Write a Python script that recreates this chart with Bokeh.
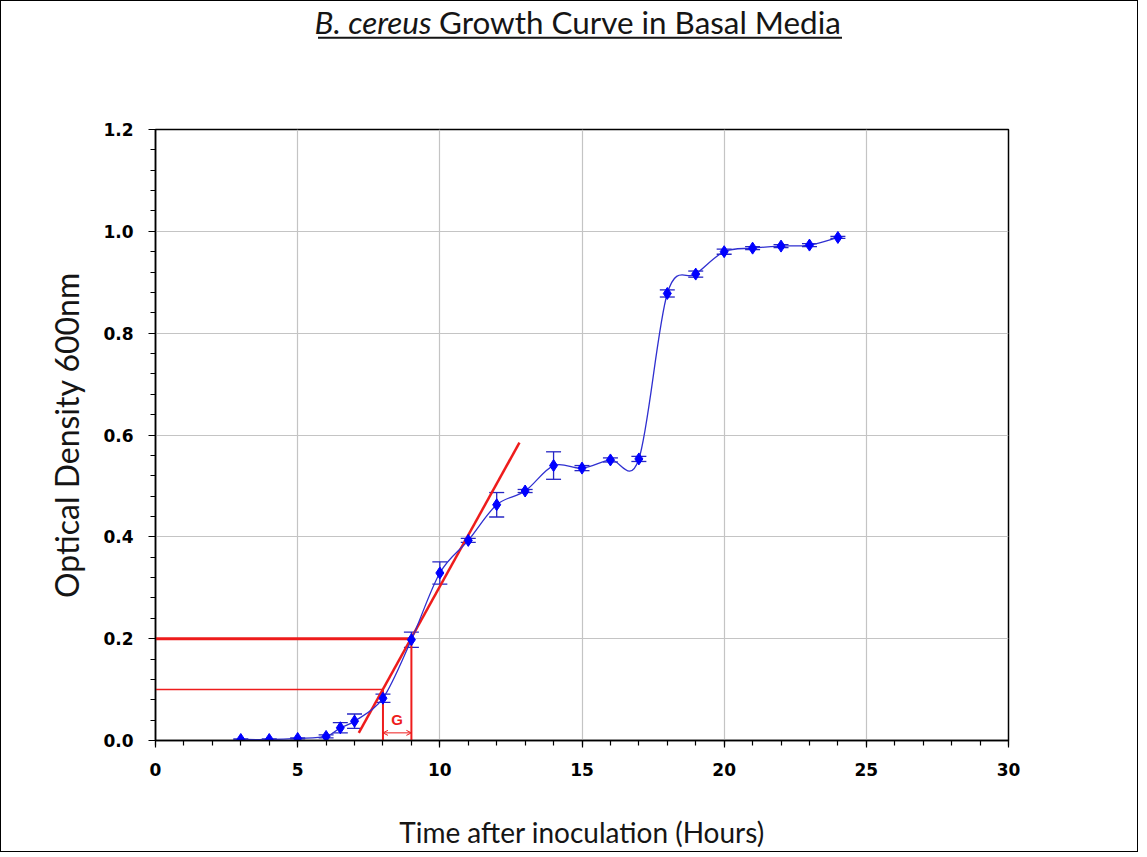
import numpy as np
from bokeh.plotting import figure
from bokeh.layouts import column
from bokeh.models import (ColumnDataSource, Whisker, TeeHead, Range1d, FixedTicker,
                          NumeralTickFormatter, Label, BoxAnnotation, Arrow, OpenHead)
from bokeh.embed import file_html
from bokeh.resources import INLINE

# ---------------- data ----------------
hours = [3, 4, 5, 6, 6.5, 7, 8, 9, 10, 11, 12, 13, 14, 15, 16, 17, 18, 19, 20, 21, 22, 23, 24]
od600 = [0.002, 0.002, 0.004, 0.008, 0.025, 0.038, 0.083, 0.198, 0.329, 0.393, 0.463, 0.490,
         0.540, 0.535, 0.551, 0.553, 0.878, 0.916, 0.960, 0.967, 0.971, 0.973, 0.988]
od_err = [0.001, 0.001, 0.001, 0.003, 0.010, 0.014, 0.008, 0.015, 0.022, 0.004, 0.024, 0.003,
          0.027, 0.005, 0.004, 0.005, 0.007, 0.006, 0.005, 0.003, 0.003, 0.003, 0.002]

gen_time_h = [8, 9]          # times used for generation-time construction
gen_od = [0.1, 0.2]          # OD doubling from 0.1 to 0.2
tangent_h = [7.15, 12.8]     # exponential-phase tangent line
tangent_od = [0.015, 0.585]

x_lim = [0, 30]
y_lim = [0, 1.2]
x_major_ticks = [0, 5, 10, 15, 20, 25, 30]
y_major_ticks = [0.0, 0.2, 0.4, 0.6, 0.8, 1.0, 1.2]
x_minor_step = 1
y_minor_step = 0.04

title_italic = "B. cereus"
title_rest = "Growth Curve in Basal Media"
x_title = "Time after inoculation (Hours)"
y_title = "Optical Density 600nm"

# ---------------- smooth curve (Catmull-Rom / Excel-like) ----------------
x = np.array(hours, float)
y = np.array(od600, float)
n = len(x)
xp = np.concatenate([[x[0]], x, [x[-1]]])
yp = np.concatenate([[y[0]], y, [y[-1]]])
P0x, P1x, P2x, P3x = xp[0:n-1], xp[1:n], xp[2:n+1], xp[3:n+2]
P0y, P1y, P2y, P3y = yp[0:n-1], yp[1:n], yp[2:n+1], yp[3:n+2]
curve = ColumnDataSource(dict(
    x0=P1x, y0=P1y, x1=P2x, y1=P2y,
    cx0=P1x + (P2x - P0x) / 6, cy0=P1y + (P2y - P0y) / 6,
    cx1=P2x - (P3x - P1x) / 6, cy1=P2y - (P3y - P1y) / 6,
))

pts = ColumnDataSource(dict(x=hours, y=od600,
                            lo=[a - b for a, b in zip(od600, od_err)],
                            hi=[a + b for a, b in zip(od600, od_err)]))

RED = "#ee1c1c"
BLUE_LINE = "#2f2fd0"
BLUE = "#0000ff"
ERR = "#2626c4"
TEXT_FONT = "Lato"
TEXT_COLOR = "#151515"
W = 1136
LEFT = 154

# ---------------- title strip ----------------
t = figure(width=W, height=100, x_range=Range1d(0, W), y_range=Range1d(0, 100),
           x_axis_type=None, y_axis_type=None, min_border=0,
           output_backend="svg", toolbar_location=None)
t.outline_line_color = None
t.grid.visible = False
t.add_layout(Label(x=430 - LEFT, y=80, x_units="screen", y_units="screen", text=title_italic,
                   text_font=TEXT_FONT, text_font_style="italic", text_font_size="31.4px",
                   text_align="right", text_baseline="alphabetic", text_color=TEXT_COLOR))
t.add_layout(Label(x=437.5 - LEFT, y=80, x_units="screen", y_units="screen", text=title_rest,
                   text_font=TEXT_FONT, text_font_style="normal", text_font_size="31.4px",
                   text_align="left", text_baseline="alphabetic", text_color=TEXT_COLOR))
t.add_layout(BoxAnnotation(left=316.5 - LEFT, right=840.5 - LEFT, bottom=62.8, top=64.8,
                           left_units="screen", right_units="screen",
                           bottom_units="screen", top_units="screen",
                           fill_color=TEXT_COLOR, fill_alpha=1, line_alpha=0))

# ---------------- main chart ----------------
p = figure(frame_width=853, frame_height=611,
           min_border_left=LEFT, min_border_right=129, min_border_top=28, min_border_bottom=107,
           x_range=Range1d(*x_lim), y_range=Range1d(*y_lim),
           x_axis_label=x_title, y_axis_label=y_title,
           output_backend="svg", toolbar_location=None)
p.background_fill_color = "white"
p.border_fill_color = "white"
p.outline_line_color = "black"
p.outline_line_width = 1.5

p.xaxis.ticker = FixedTicker(ticks=x_major_ticks,
                             minor_ticks=list(np.arange(x_lim[0], x_lim[1] + 1e-9, x_minor_step)))
p.yaxis.ticker = FixedTicker(ticks=y_major_ticks,
                             minor_ticks=list(np.round(np.arange(y_lim[0], y_lim[1] + 1e-9, y_minor_step), 3)))
p.yaxis.formatter = NumeralTickFormatter(format="0.0")
p.xaxis.formatter = NumeralTickFormatter(format="0")

for ax in (p.xaxis[0], p.yaxis[0]):
    ax.axis_line_color = "black"
    ax.axis_line_width = 1.5
    ax.major_tick_line_color = "black"
    ax.minor_tick_line_color = "black"
    ax.major_tick_line_width = 1.2
    ax.minor_tick_line_width = 1.2
    ax.major_tick_out = 7
    ax.major_tick_in = 0
    ax.minor_tick_out = 5
    ax.minor_tick_in = 0
    ax.major_label_text_font = "DejaVu Sans"
    ax.major_label_text_font_style = "bold"
    ax.major_label_text_font_size = "17px"
    ax.major_label_text_color = "black"
    ax.axis_label_text_font = TEXT_FONT
    ax.axis_label_text_font_style = "normal"
    ax.axis_label_text_color = TEXT_COLOR
    ax.major_label_standoff = 15
p.xaxis.axis_label_text_font_size = "28px"
p.yaxis.axis_label_text_font_size = "32px"
p.xaxis.axis_label_standoff = 36
p.yaxis.axis_label_standoff = 14

for g in (p.xgrid[0], p.ygrid[0]):
    g.grid_line_color = "#c4c4c4"
    g.grid_line_width = 1.2

# red generation-time construction
p.segment(x0=[x_lim[0]], y0=[gen_od[1]], x1=[gen_time_h[1]], y1=[gen_od[1]], line_color=RED, line_width=3)
p.segment(x0=[x_lim[0]], y0=[gen_od[0]], x1=[gen_time_h[0]], y1=[gen_od[0]], line_color=RED, line_width=1.5)
p.segment(x0=gen_time_h, y0=[y_lim[0]] * 2, x1=gen_time_h, y1=gen_od, line_color=RED, line_width=2)
p.line(tangent_h, tangent_od, line_color=RED, line_width=2.5)

# growth curve
p.bezier(x0="x0", y0="y0", x1="x1", y1="y1", cx0="cx0", cy0="cy0", cx1="cx1", cy1="cy1",
         source=curve, line_color=BLUE_LINE, line_width=1.3)
p.add_layout(Whisker(base="x", lower="lo", upper="hi", source=pts, dimension="height",
                     line_color=ERR, line_width=1.3,
                     upper_head=TeeHead(size=15, line_color=ERR, line_width=1.3),
                     lower_head=TeeHead(size=15, line_color=ERR, line_width=1.3)))
p.scatter("x", "y", source=pts, marker="diamond", size=12, fill_color=BLUE, line_color=BLUE)

# "G" marker and arrow
g_mid = (gen_time_h[0] + gen_time_h[1]) / 2
p.add_layout(Label(x=g_mid, y=y_lim[0], y_offset=13, text="G", text_color=RED,
                   text_font="Liberation Sans", text_font_style="bold", text_font_size="15px",
                   text_align="center", text_baseline="bottom"))
arrow_y = gen_od[0] * 0.15
p.add_layout(Arrow(start=OpenHead(size=5, line_color=RED, line_width=1),
                   end=OpenHead(size=5, line_color=RED, line_width=1),
                   x_start=gen_time_h[0], y_start=arrow_y, x_end=gen_time_h[1], y_end=arrow_y,
                   line_color=RED, line_width=1))

layout = column(t, p, spacing=0)
layout.styles = {"border": "1.5px solid black", "background-color": "white"}

open("out.html", "w").write(file_html(layout, INLINE))
